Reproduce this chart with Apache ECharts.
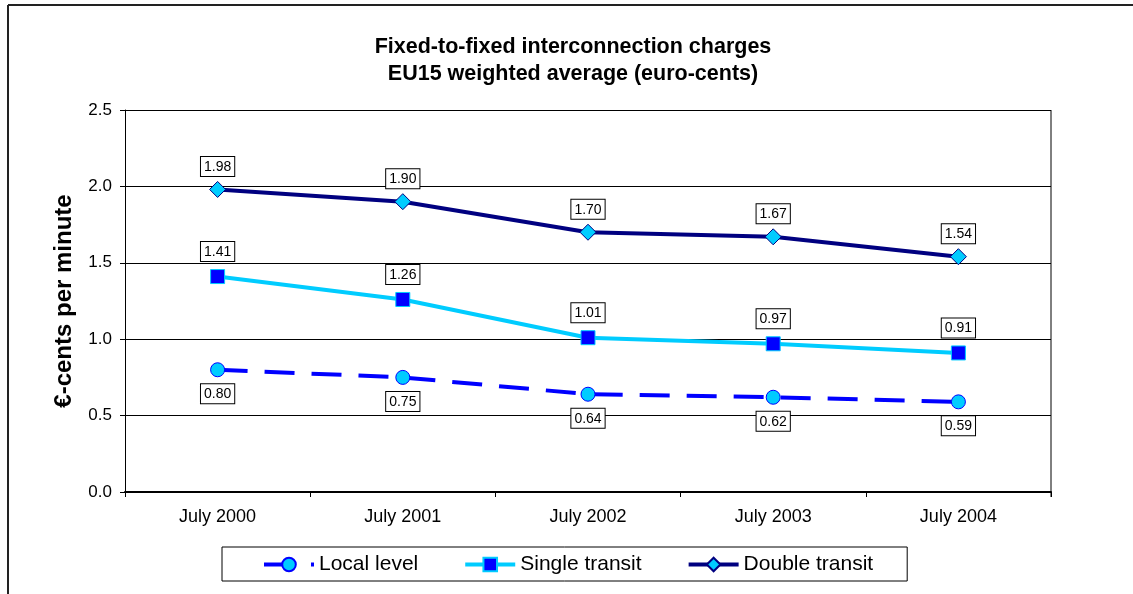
<!DOCTYPE html>
<html><head><meta charset="utf-8">
<script src="https://cdn.jsdelivr.net/npm/echarts@6/dist/echarts.min.js"></script>
<style>html,body{margin:0;padding:0;background:#fff;}#c{width:1133px;height:594px;}</style>
</head><body><div id="c"></div>
<script>
const categories = ['July 2000','July 2001','July 2002','July 2003','July 2004'];
const localLevel = [0.80,0.75,0.64,0.62,0.59];
const singleTransit = [1.41,1.26,1.01,0.97,0.91];
const doubleTransit = [1.98,1.90,1.70,1.67,1.54];
const yTicks = [0,0.5,1.0,1.5,2.0,2.5];

const FONT = 'Liberation Sans, Arial, sans-serif';
const labelBox = (pos, dist) => ({
  show: true, position: pos, distance: dist,
  formatter: p => p.value.toFixed(2),
  color: '#000', fontFamily: FONT, fontSize: 14,
  backgroundColor: '#fff', borderColor: '#000', borderWidth: 1,
  padding: [3, 3, 2, 3]
});
const chart = echarts.init(document.getElementById('c'), null, {renderer: 'canvas'});
chart.setOption({
  animation: false,
  backgroundColor: '#fff',
  title: {
    text: 'Fixed-to-fixed interconnection charges\nEU15 weighted average (euro-cents)',
    left: 568, top: 29, textAlign: 'center',
    textStyle: {fontFamily: FONT, fontSize: 21.5, fontWeight: 'bold', color: '#000', lineHeight: 27}
  },
  graphic: [
    {type: 'line', shape: {x1: 8, y1: 5, x2: 1133, y2: 5}, style: {stroke: '#222', lineWidth: 2}},
    {type: 'line', shape: {x1: 8, y1: 5, x2: 8, y2: 594}, style: {stroke: '#222', lineWidth: 2}},
    {type: 'line', shape: {x1: 1051, y1: 110, x2: 1051, y2: 497}, style: {stroke: '#000', lineWidth: 1}}
  ],
  grid: {left: 125, right: 82, top: 110, bottom: 102, containLabel: false},
  legend: {
    bottom: 13, left: 222,
    borderColor: '#000', borderWidth: 1,
    padding: [5, 34, 4, 40],
    itemGap: 45, itemWidth: 50, itemHeight: 17,
    lineStyle: {width: 4},
    textStyle: {fontFamily: FONT, fontSize: 21, color: '#000', lineHeight: 25},
    data: ['Local level', 'Single transit', 'Double transit']
  },
  xAxis: {
    type: 'category', data: categories, boundaryGap: true,
    axisLine: {lineStyle: {color: '#000', width: 2}},
    axisTick: {show: true, length: 5, lineStyle: {color: '#000'}},
    axisLabel: {fontFamily: FONT, fontSize: 18, color: '#000', margin: 16}
  },
  yAxis: {
    type: 'value', min: 0, max: 2.5, interval: 0.5,
    name: '€-cents per minute', nameLocation: 'middle', nameGap: 49,
    nameTextStyle: {fontFamily: FONT, fontSize: 24, fontWeight: 'bold', color: '#000'},
    axisLine: {show: true, lineStyle: {color: '#000'}},
    axisTick: {show: true, length: 5, lineStyle: {color: '#000'}},
    axisLabel: {fontFamily: FONT, fontSize: 17, color: '#000', margin: 13, formatter: v => v.toFixed(1)},
    splitLine: {show: true, lineStyle: {color: '#000', width: 1}}
  },
  series: [
    {
      name: 'Local level', type: 'line', data: localLevel,
      symbol: 'circle', symbolSize: 14,
      lineStyle: {color: '#0000FF', width: 4, type: [30, 17]},
      itemStyle: {color: '#00CCFF', borderColor: '#0000FF', borderWidth: 1},
      label: labelBox('bottom', 7), z: 3
    },
    {
      name: 'Single transit', type: 'line', data: singleTransit,
      symbol: 'rect', symbolSize: 14,
      lineStyle: {color: '#00CCFF', width: 4},
      itemStyle: {color: '#0000FF', borderColor: '#00CCFF', borderWidth: 1},
      label: labelBox('top', 8), z: 3
    },
    {
      name: 'Double transit', type: 'line', data: doubleTransit,
      symbol: 'diamond', symbolSize: 16,
      lineStyle: {color: '#000080', width: 4},
      itemStyle: {color: '#00CCFF', borderColor: '#000080', borderWidth: 1},
      label: labelBox('top', 5), z: 3
    }
  ]
});
</script></body></html>
